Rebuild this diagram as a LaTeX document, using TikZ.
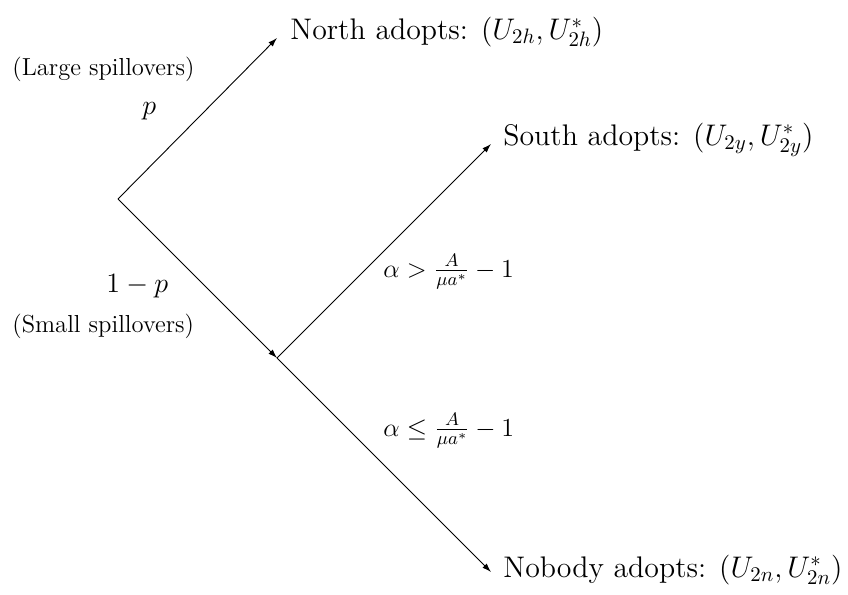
\RequirePackage{fix-cm}
\documentclass[tikz,border=0pt]{standalone}
\usetikzlibrary{arrows.meta}
\begin{document}
\begin{tikzpicture}[x=0.5pt,y=-0.5pt,
  arr/.style={line width=0.45pt,-{Latex[length=4.5pt,width=3pt]}},
  big/.style={inner sep=0pt,anchor=base west,font=\fontsize{14.9}{17}\selectfont},
  prob/.style={inner sep=0pt,anchor=base west,font=\fontsize{14}{16}\selectfont},
  side/.style={inner sep=0pt,anchor=base west,font=\fontsize{12.3}{14}\selectfont},
  cond/.style={inner sep=0pt,anchor=base west,font=\fontsize{13}{15}\selectfont}]
\useasboundingbox (0,0) rectangle (848,595);
\coordinate (root) at (118,199);
\coordinate (ntip) at (277,38);
\coordinate (jct) at (277,358);
\coordinate (stip) at (491,144);
\coordinate (btip) at (491,572);
\draw[arr] (root) -- (ntip);
\draw[arr] (root) -- (jct);
\draw[arr] (jct) -- (stip);
\draw[arr] (jct) -- (btip);
\node[big] (north) at (290,39) {North adopts: $(U_{2h},U^*_{2h})$};
\node[big] (south) at (503,145) {South adopts: $(U_{2y},U^*_{2y})$};
\node[big] (nobody) at (503,577) {Nobody adopts: $(U_{2n},U^*_{2n})$};
\node[side] (large) at (12,75) {(Large spillovers)};
\node[side] (small) at (12,332) {(Small spillovers)};
\node[prob] (p) at (142,114) {$p$};
\node[prob] (q) at (106,292) {$1-p$};
\node[cond] (c1) at (383,277) {$\alpha>\frac{A}{\mu a^*}-1$};
\node[cond] (c2) at (383,436) {$\alpha\le\frac{A}{\mu a^*}-1$};
\end{tikzpicture}
\end{document}
